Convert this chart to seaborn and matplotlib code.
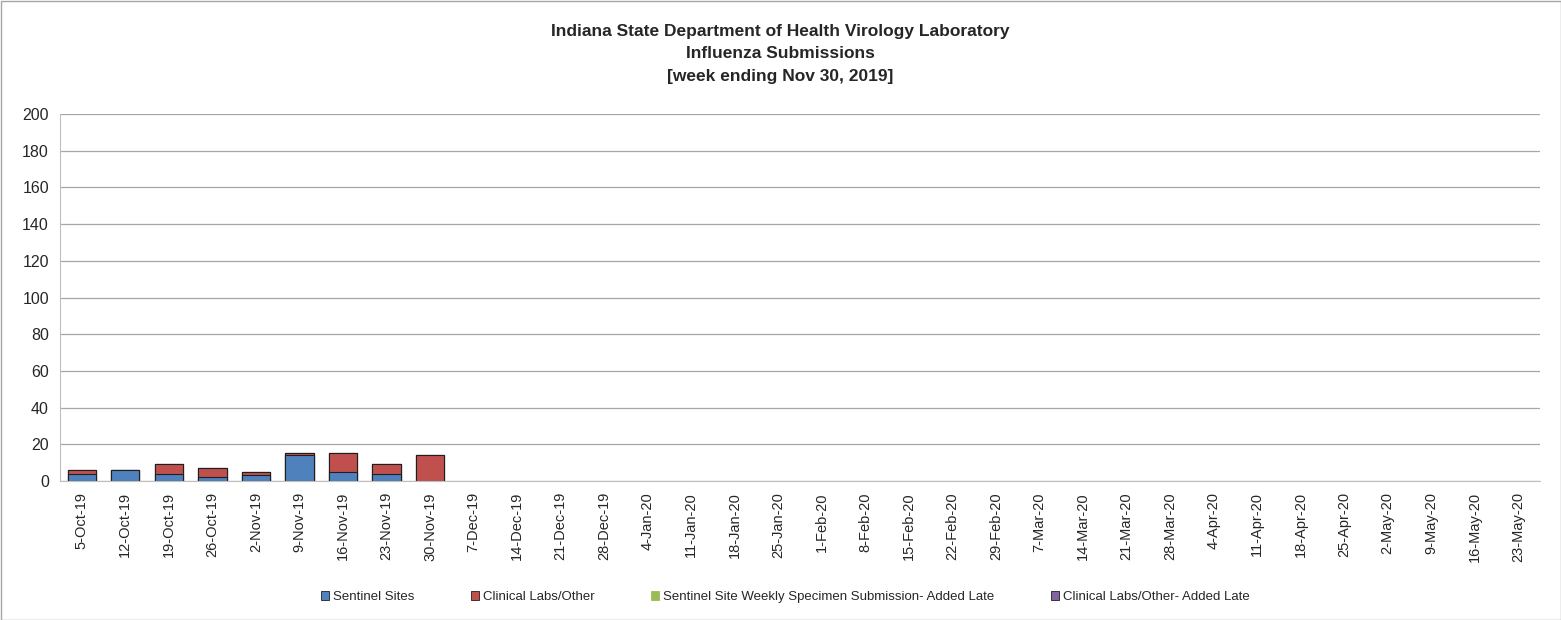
import matplotlib
matplotlib.use('Agg')

import matplotlib.pyplot as plt
from matplotlib.patches import Patch, Rectangle
import seaborn as sns
import pandas as pd
import numpy as np

weeks = ['5-Oct-19', '12-Oct-19', '19-Oct-19', '26-Oct-19', '2-Nov-19', '9-Nov-19',
         '16-Nov-19', '23-Nov-19', '30-Nov-19', '7-Dec-19', '14-Dec-19', '21-Dec-19',
         '28-Dec-19', '4-Jan-20', '11-Jan-20', '18-Jan-20', '25-Jan-20', '1-Feb-20',
         '8-Feb-20', '15-Feb-20', '22-Feb-20', '29-Feb-20', '7-Mar-20', '14-Mar-20',
         '21-Mar-20', '28-Mar-20', '4-Apr-20', '11-Apr-20', '18-Apr-20', '25-Apr-20',
         '2-May-20', '9-May-20', '16-May-20', '23-May-20']

sentinel = [4, 6, 4, 2, 3, 14, 5, 4, 0] + [0] * 25
clinical = [2, 0, 5, 5, 2, 1, 10, 5, 14] + [0] * 25
sentinel_late = [0] * 34
clinical_late = [0] * 34

title = ('Indiana State Department of Health Virology Laboratory\n'
         'Influenza Submissions\n[week ending Nov 30, 2019]')

c_sent = '#4F81BD'
c_clin = '#C0504D'
c_sent_late = '#9BBB59'
c_clin_late = '#8064A2'

df = pd.DataFrame({'week': weeks, 'sent': sentinel, 'clin': clinical,
                   'sl': sentinel_late, 'cl': clinical_late})
df['lvl1'] = df['sent']
df['lvl2'] = df['lvl1'] + df['clin']
df['lvl3'] = df['lvl2'] + df['sl']
df['lvl4'] = df['lvl3'] + df['cl']

sns.set_style('white')
plt.rcParams['font.family'] = ['Liberation Sans', 'DejaVu Sans']

fig = plt.figure(figsize=(15.61, 6.2), dpi=100)
ax = fig.add_axes([60 / 1561, 1 - 481 / 620, (1540 - 60) / 1561, (481 - 114) / 620])

ax.yaxis.grid(True, color='#A6A6A6', linewidth=0.9)
ax.set_axisbelow(True)

# stacked: draw tallest first, then overlay lower levels
for col, color in [('lvl4', c_clin_late), ('lvl3', c_sent_late), ('lvl2', c_clin), ('lvl1', c_sent)]:
    sns.barplot(data=df, x='week', y=col, color=color, saturation=1, width=0.65,
                edgecolor='#1F1F1F', linewidth=0.8, ax=ax, order=weeks)

# hide outlines of empty weeks
for p in ax.patches:
    if p.get_height() == 0:
        p.set_linewidth(0)

ax.set_ylim(0, 200)
ax.set_yticks(range(0, 201, 20))
ax.set_xlim(-0.5, len(weeks) - 0.5)
ax.set_xlabel('')
ax.set_ylabel('')
ax.tick_params(axis='y', labelsize=11.5, length=0, pad=8)
ax.tick_params(axis='x', labelsize=10.5, rotation=90, length=0, pad=8)

for s in ['top', 'right']:
    ax.spines[s].set_visible(False)
ax.spines['left'].set_color('#BFBFBF')
ax.spines['bottom'].set_color('#BFBFBF')

fig.text(0.5, 1 - 54 / 620, title, ha='center', va='center', fontsize=12.5,
         fontweight='bold', linespacing=1.6)

handles = [Patch(facecolor=c_sent, edgecolor='#1F1F1F', linewidth=0.6),
           Patch(facecolor=c_clin, edgecolor='#1F1F1F', linewidth=0.6),
           Patch(facecolor=c_sent_late, edgecolor=c_sent_late, linewidth=0.6),
           Patch(facecolor=c_clin_late, edgecolor='#1F1F1F', linewidth=0.6)]
labels = ['Sentinel Sites', 'Clinical Labs/Other',
          'Sentinel Site Weekly Specimen Submission- Added Late',
          'Clinical Labs/Other- Added Late']
fig.legend(handles, labels, loc='center', bbox_to_anchor=(0.503, 1 - 597 / 620), ncol=4,
           frameon=False, fontsize=9.5, handlelength=0.6, handleheight=0.6,
           handletextpad=0.3, columnspacing=4.3)

fig.patches.append(Rectangle((0.5 / 1561, 0.5 / 620), 1 - 1 / 1561, 1 - 1 / 620,
                             transform=fig.transFigure, fill=False,
                             edgecolor='#A6A6A6', linewidth=1))

plt.savefig('out.png', dpi=100)
